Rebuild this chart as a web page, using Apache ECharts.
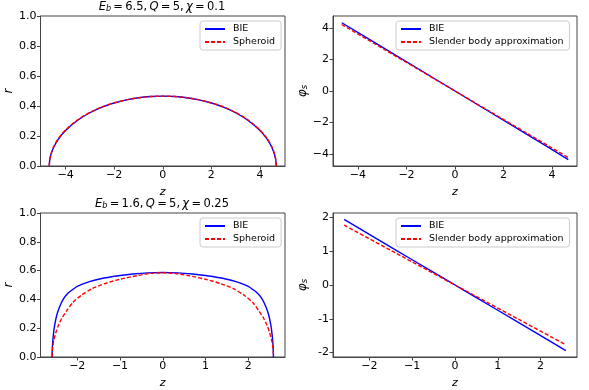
<!DOCTYPE html>
<html>
<head>
<meta charset="utf-8">
<script src="https://cdn.jsdelivr.net/npm/echarts@6/dist/echarts.min.js"></script>
<style>
html,body{margin:0;padding:0;background:#fff;}
#c{width:589px;height:390px;}
</style>
</head>
<body>
<div id="c"></div>
<script>
// ---- Data ----
// Top-left panel (E_b = 6.5, Q = 5, chi = 0.1): r(z)
const tlZ = [-4.67,-4.65,-4.6,-4.5,-4.3,-4.0,-3.5,-3.0,-2.5,-2.0,-1.5,-1.0,-0.5,0,0.5,1.0,1.5,2.0,2.5,3.0,3.5,4.0,4.3,4.5,4.6,4.65,4.67];
const tlBIE = [0,0.040,0.076,0.120,0.177,0.236,0.305,0.355,0.393,0.420,0.441,0.455,0.463,0.466,0.463,0.455,0.441,0.420,0.393,0.355,0.305,0.236,0.177,0.120,0.076,0.040,0];
const tlSpheroid = [0,0.043,0.080,0.125,0.182,0.240,0.308,0.357,0.394,0.421,0.441,0.455,0.463,0.466,0.463,0.455,0.441,0.421,0.394,0.357,0.308,0.240,0.182,0.125,0.080,0.043,0];

// Top-right panel: phi_s(z)
const trZ = [-4.67,-3.0,-1.5,0,1.5,3.0,4.67];
const trBIE = [4.34,2.79,1.40,0,-1.40,-2.79,-4.36];
const trSBA = [4.23,2.72,1.36,0,-1.36,-2.72,-4.23];

// Bottom-left panel (E_b = 1.6, Q = 5, chi = 0.25): r(z)
const blZBIE = [-2.59,-2.585,-2.575,-2.56,-2.54,-2.51,-2.47,-2.41,-2.33,-2.22,-2.10,-2.0,-1.8,-1.6,-1.4,-1.2,-1.0,-0.7,-0.35,0,0.35,0.7,1.0,1.2,1.4,1.6,1.8,2.0,2.10,2.22,2.33,2.41,2.47,2.51,2.54,2.56,2.575,2.585,2.59];
const blBIE = [0,0.05,0.10,0.15,0.20,0.25,0.30,0.35,0.40,0.443,0.47,0.49,0.515,0.533,0.547,0.557,0.566,0.576,0.584,0.587,0.584,0.576,0.566,0.557,0.547,0.533,0.515,0.49,0.47,0.443,0.40,0.35,0.30,0.25,0.20,0.15,0.10,0.05,0];
const blZSph = [-2.59,-2.585,-2.57,-2.545,-2.50,-2.44,-2.36,-2.25,-2.10,-1.90,-1.65,-1.35,-1.0,-0.6,-0.3,0,0.3,0.6,1.0,1.35,1.65,1.90,2.10,2.25,2.36,2.44,2.50,2.545,2.57,2.585,2.59];
const blSpheroid = [0,0.04,0.08,0.12,0.17,0.22,0.27,0.32,0.38,0.43,0.475,0.51,0.54,0.565,0.58,0.585,0.58,0.565,0.54,0.51,0.475,0.43,0.38,0.32,0.27,0.22,0.17,0.12,0.08,0.04,0];

// Bottom-right panel: phi_s(z)
const brZ = [-2.59,-1.5,-0.5,0,0.5,1.5,2.59];
const brBIE = [1.94,1.12,0.375,0,-0.375,-1.12,-1.94];
const brSBA = [1.77,1.025,0.34,0,-0.34,-1.025,-1.77];

// Tick values
const rTicks = [0,0.2,0.4,0.6,0.8,1.0];
const zTicksWide = [-4,-2,0,2,4];
const zTicksNarrow = [-2,-1,0,1,2];
const phiTicksTop = [-4,-2,0,2,4];
const phiTicksBottom = [-2,-1,0,1,2];

// ---- Chart ----
const FONT = 'DejaVu Sans';
const pair = (xs, ys) => xs.map((x, i) => [x, ys[i]]);
const uminus = v => String(v).replace('-', '\u2212');
const T = '\u2009';

const grids = [
  {left: 40.5, top: 16, width: 244.5, height: 150},
  {left: 333, top: 16, width: 244, height: 150},
  {left: 40.5, top: 213, width: 244.5, height: 149},
  {left: 333, top: 213, width: 244, height: 149}
].map(g => Object.assign(g, {show: true, borderColor: '#444', borderWidth: 1, backgroundColor: 'transparent', containLabel: false}));

function xAx(idx, min, max, ticks) {
  return {
    type: 'value', gridIndex: idx, min: min, max: max,
    name: 'z', nameLocation: 'middle', nameGap: 21,
    nameTextStyle: {fontFamily: FONT, fontStyle: 'italic', fontSize: 11, color: '#000'},
    axisLine: {show: true, onZero: false, lineStyle: {color: '#444', width: 1}},
    axisTick: {show: true, inside: false, length: 3.5, lineStyle: {color: '#444'}, customValues: ticks},
    axisLabel: {fontFamily: FONT, fontSize: 11, color: '#000', margin: 4, customValues: ticks, formatter: v => uminus(v)},
    splitLine: {show: false}
  };
}
function yAx(idx, min, max, ticks, fmt, name, gap) {
  return {
    type: 'value', gridIndex: idx, min: min, max: max,
    name: name, nameLocation: 'middle', nameGap: gap,
    nameTextStyle: {fontFamily: FONT, fontStyle: 'italic', fontSize: 12, color: '#000',
      rich: {s: {fontSize: 8.5, fontStyle: 'italic', fontFamily: FONT, color: '#000', verticalAlign: 'bottom'},
             p: {fontSize: 12, fontStyle: 'italic', fontFamily: FONT, color: '#000'}}},
    axisLine: {show: true, onZero: false, lineStyle: {color: '#444', width: 1}},
    axisTick: {show: true, inside: false, length: 3.5, lineStyle: {color: '#444'}, customValues: ticks},
    axisLabel: {fontFamily: FONT, fontSize: 11, color: '#000', margin: 4, customValues: ticks, formatter: fmt},
    splitLine: {show: false}
  };
}

function line(name, idx, data, color, dashed) {
  return {
    type: 'line', name: name, xAxisIndex: idx, yAxisIndex: idx,
    data: data, showSymbol: false, symbol: 'none', smooth: 0.25, animation: false,
    lineStyle: {color: color, width: 1.4, type: dashed ? [4, 2] : 'solid'},
    itemStyle: {color: color}
  };
}

function legend(left, top, names) {
  return {
    left: left, top: top, orient: 'vertical', data: names,
    backgroundColor: 'rgba(255,255,255,0.8)', borderColor: '#ccc', borderWidth: 1, borderRadius: 3,
    padding: [3, 6, 3, 4], itemGap: 3, itemWidth: 20, itemHeight: 10,
    itemStyle: {opacity: 0},
    textStyle: {fontFamily: FONT, fontSize: 9.5, color: '#000', padding: [0, 0, 0, 3]},
    selectedMode: false
  };
}

const titleRich = {
  n: {fontFamily: FONT, fontSize: 11.5, fontWeight: 'normal', color: '#000'},
  i: {fontFamily: FONT, fontSize: 11.5, fontWeight: 'normal', fontStyle: 'italic', color: '#000'},
  s: {fontFamily: FONT, fontSize: 8, fontWeight: 'normal', fontStyle: 'italic', color: '#000', verticalAlign: 'bottom', padding: [4, 0, 0, 0]}
};

function titleText(eb, q, chi) {
  return '{i|E}{s|b}{n|' + T + '=' + T + eb + ',' + T + '}{i|Q}{n|' + T + '=' + T + q + ',' + T + '}{i|χ}{n|' + T + '=' + T + chi + '}';
}

const option = {
  animation: false,
  backgroundColor: '#fff',
  title: [
    {text: titleText('6.5', '5', '0.1'), left: 162, top: 1, textAlign: 'center', padding: 0,
     textStyle: {fontWeight: 'normal', rich: titleRich}},
    {text: titleText('1.6', '5', '0.25'), left: 162, top: 198, textAlign: 'center', padding: 0,
     textStyle: {fontWeight: 'normal', rich: titleRich}}
  ],
  grid: grids,
  xAxis: [
    xAx(0, -5.03, 5.03, zTicksWide),
    xAx(1, -5.03, 5.03, zTicksWide),
    xAx(2, -2.86, 2.86, zTicksNarrow),
    xAx(3, -2.85, 2.85, zTicksNarrow)
  ],
  yAxis: [
    yAx(0, 0, 1, rTicks, v => v.toFixed(1), 'r', 16),
    yAx(1, -4.77, 4.77, phiTicksTop, v => uminus(v), '{p|φ}{s|s}', 24),
    yAx(2, 0, 1, rTicks, v => v.toFixed(1), 'r', 16),
    yAx(3, -2.13, 2.13, phiTicksBottom, v => String(v), '{p|φ}{s|s}', 24)
  ],
  legend: [
    legend(200, 21, ['BIE', 'Spheroid']),
    legend(396, 21, ['BIE', 'Slender body approximation']),
    legend(200, 218, ['BIE', 'Spheroid']),
    legend(396, 218, ['BIE', 'Slender body approximation'])
  ],
  series: [
    line('BIE', 0, pair(tlZ, tlBIE), '#0000ff', false),
    line('Spheroid', 0, pair(tlZ, tlSpheroid), '#ff0000', true),
    line('BIE', 1, pair(trZ, trBIE), '#0000ff', false),
    line('Slender body approximation', 1, pair(trZ, trSBA), '#ff0000', true),
    line('BIE', 2, pair(blZBIE, blBIE), '#0000ff', false),
    line('Spheroid', 2, pair(blZSph, blSpheroid), '#ff0000', true),
    line('BIE', 3, pair(brZ, brBIE), '#0000ff', false),
    line('Slender body approximation', 3, pair(brZ, brSBA), '#ff0000', true)
  ]
};

const chart = echarts.init(document.getElementById('c'), null, {renderer: 'canvas'});
chart.setOption(option);
</script>
</body>
</html>
